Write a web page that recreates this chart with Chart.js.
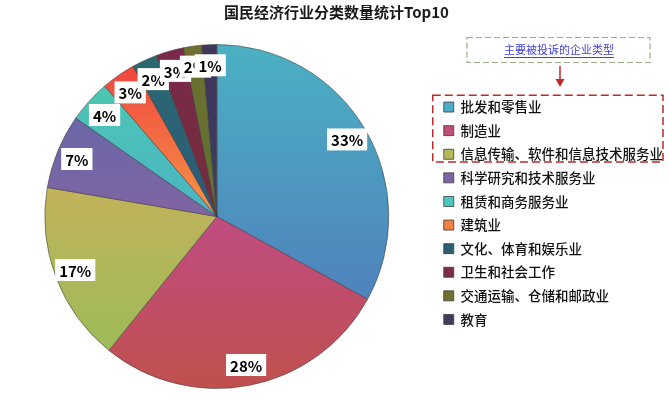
<!DOCTYPE html>
<html>
<head>
<meta charset="utf-8">
<script src="https://cdn.jsdelivr.net/npm/chart.js@4"></script>
<style>
	html, body { margin: 0; padding: 0; background: #fff; }
	#wrap { width: 669px; height: 399px; }
</style>
</head>
<body>
<div id="wrap"><canvas id="industry-chart" width="669" height="399"></canvas></div>
<script>
// Industry categories (top 10)
const categories = [
	'批发和零售业', '制造业', '信息传输、软件和信息技术服务业', '科学研究和技术服务业',
	'租赁和商务服务业', '建筑业', '文化、体育和娱乐业', '卫生和社会工作',
	'交通运输、仓储和邮政业', '教育'
];
// Share of each category (%)
const shares = [33.0, 27.8, 16.9, 7.0, 4.0, 3.2, 2.4, 2.6, 1.7, 1.4];

// Legend colours and slice gradients (top -> bottom)
const legendColors = ['#4bacc6', '#c0507a', '#b5b85a', '#7f64a5', '#4bc6c0', '#f58040', '#2a6070', '#7a2c48', '#6e7030', '#403a60'];
const sliceTop = ['#4bb0c2', '#c04c82', '#c2b25c', '#6a67a8', '#4cc6b2', '#f0453e', '#2a6870', '#7a2a4a', '#6e7030', '#40365c'];
const sliceBottom = ['#4f82bd', '#c0504d', '#9dbb58', '#8064a2', '#4bb4c6', '#f79646', '#2d5a7a', '#742c3a', '#5f7030', '#3a3e62'];

const FONT = "'Noto Sans CJK SC', 'Microsoft YaHei', sans-serif";

/* Excel-like vertical gradient per slice */
const sliceGradient = {
	id: 'sliceGradient',
	beforeDatasetsDraw(chart) {
		const ctx = chart.ctx;
		chart.getDatasetMeta(0).data.forEach((arc, i) => {
			const { x, y, startAngle, endAngle, outerRadius } = arc.getProps(['x', 'y', 'startAngle', 'endAngle', 'outerRadius'], true);
			const ys = [y, y + Math.sin(startAngle) * outerRadius, y + Math.sin(endAngle) * outerRadius];
			[-Math.PI / 2, Math.PI / 2, 3 * Math.PI / 2].forEach(a => {
				if (a >= startAngle && a <= endAngle) ys.push(y + Math.sin(a) * outerRadius);
			});
			const top = Math.min(...ys), bottom = Math.max(...ys);
			const g = ctx.createLinearGradient(0, top, 0, bottom + 0.01);
			g.addColorStop(0, sliceTop[i]);
			g.addColorStop(1, sliceBottom[i]);
			arc.options.backgroundColor = g;
		});
	}
};

/* Percent labels in white boxes */
const percentLabels = {
	id: 'percentLabels',
	afterDatasetsDraw(chart) {
		const ctx = chart.ctx;
		const total = shares.reduce((a, b) => a + b, 0);
		ctx.save();
		ctx.font = 'bold 15px ' + FONT;
		ctx.textAlign = 'center';
		ctx.textBaseline = 'middle';
		chart.getDatasetMeta(0).data.forEach((arc, i) => {
			const { x, y, startAngle, endAngle, outerRadius } = arc.getProps(['x', 'y', 'startAngle', 'endAngle', 'outerRadius'], true);
			const mid = (startAngle + endAngle) / 2;
			const r = outerRadius * 0.88;
			const px = x + Math.cos(mid) * r;
			const py = y + Math.sin(mid) * r;
			const text = Math.round(shares[i] / total * 100) + '%';
			const w = ctx.measureText(text).width + 8;
			ctx.fillStyle = '#fff';
			ctx.fillRect(px - w / 2, py - 11, w, 22);
			ctx.fillStyle = '#000';
			ctx.fillText(text, px, py + 1);
		});
		ctx.restore();
	}
};

/* Callout: note box, arrow and dashed frame round the first three legend items */
const callout = {
	id: 'callout',
	afterDraw(chart) {
		const ctx = chart.ctx;
		const boxes = chart.legend.legendHitBoxes;
		if (!boxes || boxes.length < 3) return;
		const left = boxes[0].left - 11;
		const top = boxes[0].top - 5;
		const bottom = boxes[2].top + boxes[2].height + 1;
		const right = 663;
		const cx = 559;

		ctx.save();
		// red dashed frame
		ctx.strokeStyle = '#c0282d';
		ctx.lineWidth = 1.5;
		ctx.setLineDash([8, 4]);
		ctx.strokeRect(left, top, right - left, bottom - top);

		// note box
		ctx.strokeStyle = '#9aab8c';
		ctx.lineWidth = 1.2;
		ctx.setLineDash([6, 3]);
		ctx.strokeRect(467, 37.5, 183, 25);
		ctx.setLineDash([]);

		ctx.font = '11px ' + FONT;
		ctx.fillStyle = '#3f3fe0';
		ctx.textAlign = 'center';
		ctx.textBaseline = 'middle';
		const note = '主要被投诉的企业类型';
		ctx.fillText(note, cx, 50);
		const tw = ctx.measureText(note).width;
		ctx.strokeStyle = '#3f3fe0';
		ctx.lineWidth = 1;
		ctx.beginPath();
		ctx.moveTo(cx - tw / 2, 57.5);
		ctx.lineTo(cx + tw / 2, 57.5);
		ctx.stroke();

		// arrow
		ctx.strokeStyle = '#c0282d';
		ctx.fillStyle = '#c0282d';
		ctx.lineWidth = 1.5;
		ctx.beginPath();
		ctx.moveTo(cx + 1, 66);
		ctx.lineTo(cx + 1, 80);
		ctx.stroke();
		ctx.beginPath();
		ctx.moveTo(cx - 3.5, 79);
		ctx.lineTo(cx + 5.5, 79);
		ctx.lineTo(cx + 1, 87);
		ctx.closePath();
		ctx.fill();
		ctx.restore();
	}
};

new Chart(document.getElementById('industry-chart').getContext('2d'), {
	type: 'pie',
	data: {
		labels: categories,
		datasets: [{
			data: shares,
			backgroundColor: legendColors,
			borderColor: 'rgba(60,60,60,0.55)',
			borderWidth: 1
		}]
	},
	options: {
		responsive: false,
		animation: false,
		layout: { padding: { left: 0, right: -4, top: 0, bottom: 10 } },
		plugins: {
			title: {
				display: true,
				text: '国民经济行业分类数量统计Top10',
				color: '#1a1a1a',
				font: { family: FONT, size: 15, weight: 'bold' },
				padding: { top: 3, bottom: 23 }
			},
			legend: {
				position: 'right',
				align: 'start',
				// empty title used only as a top spacer
				title: { display: true, text: ' ', color: 'rgba(0,0,0,0)', font: { size: 1 }, padding: { top: 89, bottom: 0 } },
				labels: {
					color: '#000',
					font: { family: FONT, size: 13.5, weight: '500' },
					boxWidth: 10,
					boxHeight: 10,
					padding: 10.1,
					generateLabels: chart => categories.map((name, i) => ({
						text: name,
						fillStyle: legendColors[i],
						strokeStyle: 'rgba(60,60,60,0.8)',
						fontColor: '#111',
						lineWidth: 1,
						hidden: false,
						index: i
					}))
				}
			},
			tooltip: { enabled: false }
		}
	},
	plugins: [sliceGradient, percentLabels, callout]
});
</script>
</body>
</html>
